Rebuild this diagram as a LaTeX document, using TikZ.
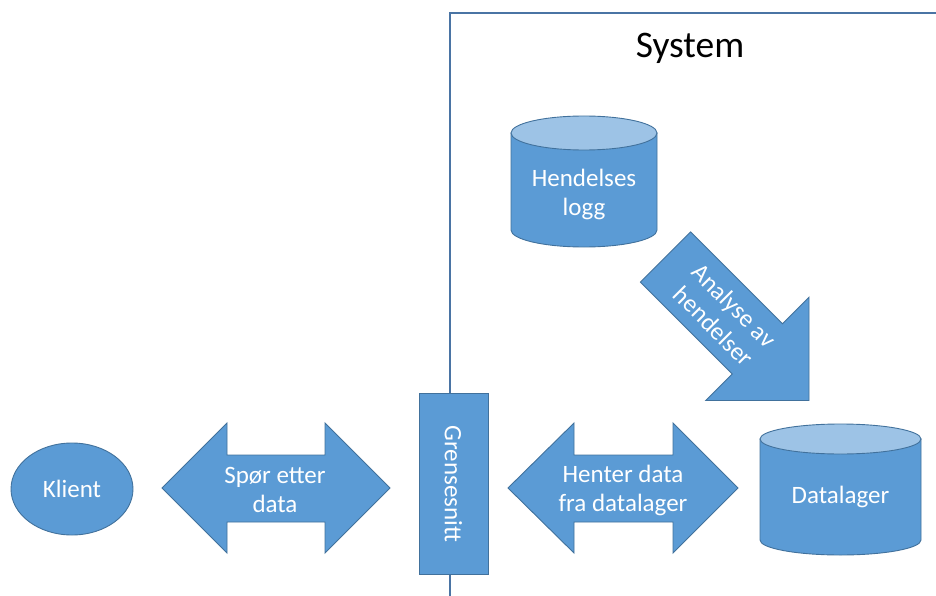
\documentclass[tikz,border=0pt]{standalone}
\usepackage{fontspec}
\setmainfont{Carlito}
\usetikzlibrary{shapes.geometric}
\definecolor{officeblue}{HTML}{5B9BD5}
\definecolor{officeedge}{HTML}{41719C}
\definecolor{officelight}{HTML}{9DC3E6}
\definecolor{framecol}{HTML}{4A74A4}
\tikzset{
  blockshape/.style={fill=officeblue, draw=officeedge, line width=0.9pt, line join=miter},
  lbl/.style={text=white, font=\fontsize{25}{29}\selectfont, align=center, inner sep=0pt},
}
% upright storage cylinder: centre x, top axis y, bottom axis y, x radius, y radius
\newcommand\dbcylinder[5]{%
  \path[blockshape] ({#1-#4},#2) -- ({#1-#4},#3)
    arc[start angle=180, end angle=0, x radius=#4, y radius=#5] -- ({#1+#4},#2) -- cycle;
  \path[fill=officelight, draw=officeedge, line width=0.9pt] (#1,#2) ellipse [x radius=#4, y radius=#5];
}
\begin{document}
\begin{tikzpicture}[x=1pt, y=-1pt]
\useasboundingbox (0,0) rectangle (936,596);

% system boundary
\draw[framecol, line width=1.1pt] (936,13) -- (450,13) -- (450,596);
\node[font=\fontsize{37.5}{42}\selectfont, anchor=base] (system) at (690,58) {System};

% event log store
\dbcylinder{584}{133}{230}{73}{17}
\node[lbl] (hlogg) at (584,194) {Hendelses\\logg};

% data store
\dbcylinder{840.5}{439}{540}{80.5}{15}
\node[lbl] (datalager) at (840.5,497) {Datalager};

% client
\node[blockshape, ellipse, lbl, minimum width=122pt, minimum height=92pt] (klient) at (72,489) {Klient};

% interface
\path[blockshape] (419,393) rectangle (488,574);
\node[lbl, rotate=-90] (grense) at (453.5,484) {Grensesnitt};

% client <-> interface
\path[blockshape] (162,488) -- (227,423) -- (227,455) -- (325,455) -- (325,423) -- (390,488)
  -- (325,553) -- (325,522) -- (227,522) -- (227,553) -- cycle;
\node[lbl] (spor) at (275,490) {Spør etter\\data};

% interface <-> data store
\path[blockshape] (508,488) -- (574,423) -- (574,455) -- (673,455) -- (673,423) -- (738,488)
  -- (673,553) -- (673,522) -- (574,522) -- (574,553) -- cycle;
\node[lbl] (henter) at (623,490) {Henter data\\fra datalager};

% event analysis: log -> data store
\path[blockshape] (690.6,231.9) -- (782.5,323.8) -- (809,297.3) -- (809,400.5)
  -- (705.8,400.5) -- (732.3,374) -- (640.4,282.1) -- cycle;
\node[lbl, rotate=-45] (analyse) at (724,316) {Analyse av\\hendelser};
\end{tikzpicture}
\end{document}
